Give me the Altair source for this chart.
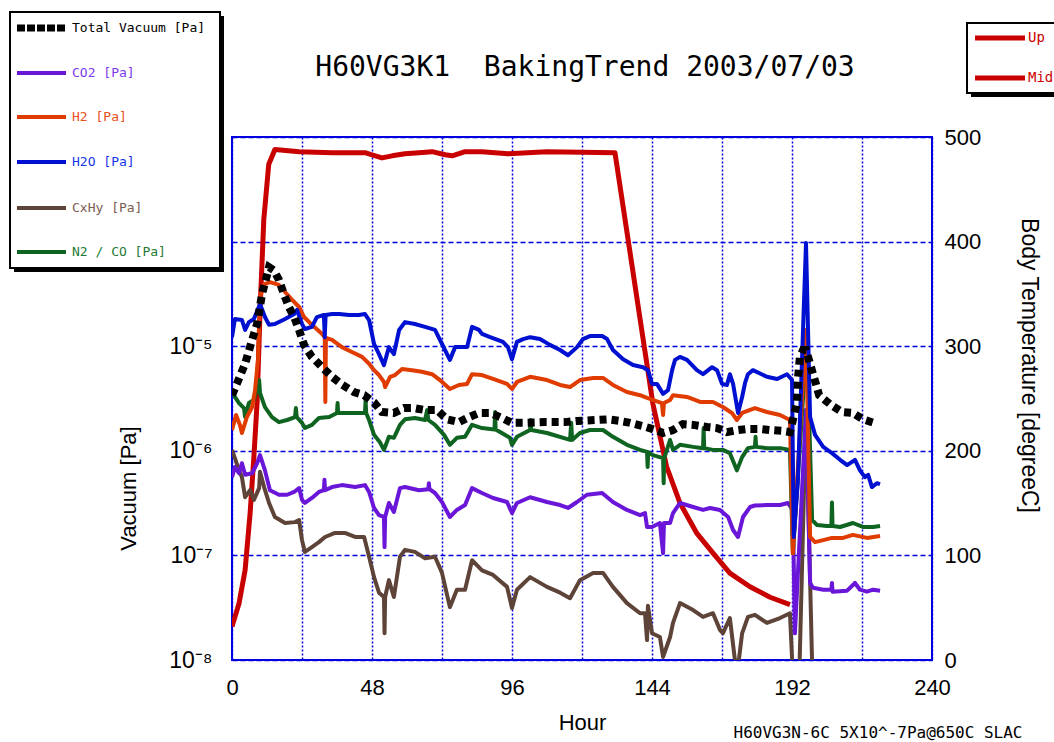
import altair as alt
import pandas as pd

# ---------------- data ----------------
total_hours = [0, 1.7, 4.5, 6.9, 8.6, 10.3, 12.7, 14.4, 16.1, 17.8, 19.5, 21.3, 23.0, 24.7, 27.4, 30.9, 34.3, 37.7, 41.8, 45.3,
               48.7, 51.4, 55.5, 59.0, 62.4, 66.2, 70.3, 73.7, 77.8, 81.3, 84.7, 88.5, 91.9, 96.0, 99.8, 107.3, 114.2, 118.3, 125.1, 128.9,
               133.0, 136.5, 140.6, 144.0, 147.8, 151.2, 154.6, 158.7, 162.9, 166.3, 169.7, 173.5, 176.9, 181.0, 184.5, 188.6, 191.3, 193.7, 194.1, 194.7,
               195.8, 196.8, 198.2, 199.2, 200.2, 201.3, 205.4, 209.1, 212.9, 216.3, 220.1]
total_pa = [3.4e-6, 4.4e-6, 6.8e-6, 1.15e-5, 1.63e-5, 3.15e-5, 5.7e-5, 5.3e-5, 4.3e-5, 3.15e-5, 2.37e-5, 1.9e-5, 1.43e-5, 1.03e-5, 7.9e-6, 6.3e-6, 5.1e-6, 4.3e-6, 3.65e-6, 3.4e-6,
            2.9e-6, 2.35e-6, 2.3e-6, 2.56e-6, 2.56e-6, 2.45e-6, 2.45e-6, 2.0e-6, 1.88e-6, 2.1e-6, 2.3e-6, 2.3e-6, 2.1e-6, 1.85e-6, 1.85e-6, 1.88e-6, 1.88e-6, 1.93e-6, 1.97e-6, 2.0e-6,
            1.93e-6, 1.85e-6, 1.73e-6, 1.62e-6, 1.48e-6, 1.58e-6, 1.8e-6, 1.76e-6, 1.69e-6, 1.65e-6, 1.51e-6, 1.58e-6, 1.62e-6, 1.62e-6, 1.58e-6, 1.55e-6, 1.51e-6, 2.86e-6, 5.1e-6, 7.9e-6,
            9.2e-6, 9.2e-6, 6.8e-6, 5.4e-6, 4.36e-6, 3.4e-6, 2.74e-6, 2.35e-6, 2.3e-6, 2.0e-6, 1.85e-6]

h2o_hours = [0, 1.0, 3.4, 4.5, 5.8, 7.5, 9.6, 11.3, 12.7, 14.7, 18.2, 21.3, 22.3, 24.0, 25.0, 27.4, 29.1, 31.5, 31.8, 32.1,
             34.3, 36.7, 40.1, 43.5, 45.6, 47.0, 48.7, 50.4, 52.1, 53.8, 55.5, 57.3, 59.3, 62.7, 66.2, 69.6, 72.0, 74.7, 76.5, 78.9,
             80.6, 82.3, 84.7, 85.7, 88.5, 92.9, 94.6, 96.0, 97.7, 99.8, 102.2, 105.6, 109.0, 112.5, 115.2, 118.3, 120.3, 122.7, 126.9, 128.6,
             130.6, 134.1, 137.5, 140.9, 142.6, 144.0, 145.7, 147.8, 149.5, 150.9, 151.9, 153.6, 156.0, 159.4, 161.5, 164.6, 166.3, 168.0, 169.7, 170.7,
             171.8, 173.5, 174.9, 175.9, 176.9, 178.6, 183.4, 186.9, 190.3, 192.0, 192.6, 194.0, 196.8, 198.2, 199.9, 202.7, 205.7, 208.5, 210.9, 213.6,
             215.3, 217.0, 218.1, 219.4, 221.1, 222.2]
h2o_pa = [1.22e-5, 1.82e-5, 1.78e-5, 1.43e-5, 1.7e-5, 1.82e-5, 2.53e-5, 1.9e-5, 1.6e-5, 1.63e-5, 1.82e-5, 2.03e-5, 2.22e-5, 1.63e-5, 1.46e-5, 1.53e-5, 1.9e-5, 1.99e-5, 1.22e-5, 1.99e-5,
          2.03e-5, 2.03e-5, 1.99e-5, 1.99e-5, 2.03e-5, 1.78e-5, 1.05e-5, 8.4e-6, 6.6e-6, 9.8e-6, 8.4e-6, 1.43e-5, 1.7e-5, 1.63e-5, 1.53e-5, 1.43e-5, 1.05e-5, 7.4e-6, 9.8e-6, 9.8e-6,
          9.8e-6, 1.53e-5, 1.43e-5, 1.31e-5, 1.22e-5, 1.1e-5, 9.8e-6, 7.5e-6, 1.1e-5, 1.17e-5, 1.22e-5, 1.17e-5, 1.03e-5, 9.2e-6, 8.2e-6, 9.8e-6, 1.17e-5, 1.25e-5, 1.25e-5, 1.17e-5,
          9.2e-6, 7.5e-6, 6.6e-6, 6.3e-6, 5.9e-6, 4.36e-6, 4.36e-6, 3.5e-6, 3.8e-6, 5.9e-6, 7.4e-6, 7.9e-6, 7.4e-6, 5.9e-6, 5.4e-6, 6.3e-6, 5.9e-6, 4.36e-6, 4.26e-6, 5.4e-6,
          4.36e-6, 2.3e-6, 3.27e-6, 4.45e-6, 5.4e-6, 5.9e-6, 5.1e-6, 4.86e-6, 5.4e-6, 4.75e-6, 1.5e-7, 5e-7, 9.7e-5, 2.1e-6, 1.42e-6, 1.09e-6, 9.5e-7, 8.2e-7, 7.3e-7, 8.2e-7,
          6.5e-7, 5.6e-7, 5.9e-7, 4.5e-7, 4.9e-7, 4.8e-7]

h2_hours = [0, 1.4, 2.7, 3.4, 5.1, 6.9, 7.9, 8.9, 9.6, 11.0, 13.0, 16.1, 18.2, 20.6, 23.0, 24.7, 27.4, 30.9, 31.8, 32.0,
            32.2, 34.3, 37.7, 41.1, 44.6, 47.0, 48.7, 50.4, 52.1, 52.5, 54.2, 55.9, 58.3, 61.7, 65.1, 68.6, 71.3, 74.7, 77.8, 80.6,
            82.3, 85.7, 89.5, 94.3, 96.0, 97.7, 102.2, 108.0, 112.5, 115.9, 119.3, 123.8, 127.2, 130.6, 135.4, 139.9, 142.3, 147.4, 147.8, 148.1,
            150.2, 151.2, 156.0, 160.5, 164.9, 168.3, 171.4, 173.1, 174.9, 179.3, 183.4, 187.9, 191.3, 192.3, 196.8, 198.2, 199.9, 202.7, 205.7, 209.5,
            212.9, 217.7, 222.2]
h2_pa = [1.58e-6, 2.2e-6, 1.77e-6, 1.48e-6, 2.1e-6, 2.62e-6, 3.8e-6, 7.4e-6, 2.95e-5, 3.9e-5, 4.1e-5, 3.85e-5, 3.3e-5, 2.77e-5, 2.37e-5, 1.9e-5, 1.6e-5, 1.31e-5, 1.22e-5, 2.93e-6,
         1.2e-5, 1.15e-5, 9.8e-6, 8.8e-6, 7.9e-6, 6.8e-6, 5.9e-6, 5.3e-6, 4.55e-6, 4.07e-6, 5.1e-6, 5.3e-6, 6.05e-6, 5.9e-6, 5.7e-6, 5.4e-6, 4.75e-6, 3.9e-6, 4.26e-6, 4.36e-6,
         5.4e-6, 5.3e-6, 4.86e-6, 4.36e-6, 3.9e-6, 4.55e-6, 5.1e-6, 4.75e-6, 4.26e-6, 4.07e-6, 4.75e-6, 4.97e-6, 4.97e-6, 4.26e-6, 3.65e-6, 3.4e-6, 3.2e-6, 2.86e-6, 2.2e-6, 2.86e-6,
         3.06e-6, 3.4e-6, 3.27e-6, 2.93e-6, 2.93e-6, 2.62e-6, 2.3e-6, 1.97e-6, 2.3e-6, 2.56e-6, 2.35e-6, 2.2e-6, 1.97e-6, 1.05e-7, 1.43e-5, 1.5e-7, 1.34e-7, 1.4e-7, 1.47e-7, 1.47e-7,
         1.57e-7, 1.47e-7, 1.53e-7]

n2co_hours = [0, 1.0, 2.4, 4.1, 4.5, 5.8, 7.5, 9.3, 9.6, 11.3, 13.7, 16.1, 18.9, 21.6, 21.9, 22.2, 24.0, 25.0, 27.4, 29.8,
              33.3, 36.0, 36.2, 36.4, 45.6, 45.8, 46.0, 47.0, 48.7, 50.7, 52.1, 53.8, 55.5, 57.6, 59.3, 62.7, 66.2, 66.9, 67.3, 69.6,
              72.7, 74.7, 77.1, 79.9, 82.3, 85.7, 90.0, 90.2, 90.4, 91.9, 95.3, 96.0, 97.7, 102.2, 102.4, 102.6, 108.0, 115.9, 116.3, 116.6,
              119.3, 122.7, 127.2, 130.6, 135.4, 139.9, 142.3, 142.5, 142.7, 144.3, 147.8, 148.0, 148.2, 150.2, 151.2, 153.6, 158.1, 161.5, 161.7, 161.9,
              164.9, 168.3, 170.7, 173.1, 174.9, 176.9, 179.3, 179.5, 179.7, 183.4, 187.9, 191.3, 192.3, 197.1, 198.9, 200.6, 204.0, 205.5, 205.7, 205.9,
              208.5, 212.9, 216.3, 219.8, 222.2]
n2co_pa = [3.8e-6, 3.27e-6, 2.86e-6, 2.56e-6, 2.1e-6, 2.86e-6, 3.06e-6, 4.75e-6, 3.57e-6, 2.62e-6, 2.1e-6, 1.88e-6, 1.97e-6, 2.1e-6, 2.56e-6, 2.1e-6, 1.85e-6, 1.65e-6, 1.77e-6, 2.06e-6,
           2.1e-6, 2.3e-6, 2.86e-6, 2.3e-6, 2.3e-6, 3.06e-6, 2.3e-6, 1.97e-6, 1.42e-6, 1.21e-6, 1.02e-6, 1.36e-6, 1.33e-6, 1.77e-6, 2.0e-6, 2.06e-6, 1.97e-6, 2.45e-6, 1.97e-6, 1.77e-6,
           1.42e-6, 1.14e-6, 1.33e-6, 1.36e-6, 1.77e-6, 1.65e-6, 1.6e-6, 2.35e-6, 1.6e-6, 1.51e-6, 1.33e-6, 1.14e-6, 1.36e-6, 1.58e-6, 1.97e-6, 1.58e-6, 1.48e-6, 1.27e-6, 1.85e-6, 1.27e-6,
           1.48e-6, 1.58e-6, 1.58e-6, 1.36e-6, 1.14e-6, 1.02e-6, 9.75e-7, 7.0e-7, 9.7e-7, 9.1e-7, 8.5e-7, 4.9e-7, 8.5e-7, 1.27e-6, 1.02e-6, 1.14e-6, 1.09e-6, 1.06e-6, 1.65e-6, 1.06e-6,
           1.02e-6, 1.02e-6, 9.5e-7, 6.5e-7, 8.7e-7, 1.06e-6, 1.09e-6, 1.36e-6, 1.09e-6, 1.06e-6, 1.06e-6, 1.02e-6, 1.05e-7, 1.17e-5, 2.18e-7, 1.95e-7, 1.91e-7, 1.91e-7, 3.2e-7, 1.91e-7,
           1.87e-7, 2.04e-7, 1.87e-7, 1.87e-7, 1.91e-7]

co2_hours = [0, 1.0, 2.4, 3.4, 4.5, 6.9, 8.6, 9.6, 11.3, 13.0, 16.1, 18.9, 21.3, 23.0, 24.0, 25.0, 27.4, 29.8, 31.5, 31.7,
             31.9, 34.3, 37.7, 42.2, 45.6, 47.0, 48.7, 50.4, 52.1, 52.3, 52.5, 53.8, 55.5, 57.6, 59.3, 64.1, 67.3, 67.5, 67.7, 69.6,
             72.0, 74.7, 77.1, 79.9, 82.3, 85.7, 89.5, 94.3, 96.0, 97.7, 102.2, 108.0, 112.5, 115.2, 118.3, 121.7, 126.9, 130.6, 135.4, 139.9,
             141.6, 142.3, 144.0, 146.7, 147.8, 148.1, 150.2, 151.2, 153.6, 158.1, 161.5, 163.9, 167.3, 170.1, 171.8, 173.5, 175.2, 177.6, 179.3, 183.4,
             187.9, 190.6, 192.3, 193.0, 196.8, 198.2, 199.2, 202.7, 205.5, 205.7, 205.9, 210.9, 213.6, 215.3, 217.7, 219.8, 222.2]
co2_pa = [5.6e-7, 7.0e-7, 6.1e-7, 7.6e-7, 5.9e-7, 6.1e-7, 7.6e-7, 9.1e-7, 6.5e-7, 4.2e-7, 3.8e-7, 3.8e-7, 4.04e-7, 4.4e-7, 3.4e-7, 3.17e-7, 3.54e-7, 4.04e-7, 4.2e-7, 5.3e-7,
          4.2e-7, 4.5e-7, 4.7e-7, 4.5e-7, 4.7e-7, 4.04e-7, 2.84e-7, 2.43e-7, 2.33e-7, 1.2e-7, 2.33e-7, 3.17e-7, 2.6e-7, 4.4e-7, 4.5e-7, 4.2e-7, 4.3e-7, 4.9e-7, 4.3e-7, 3.95e-7,
          3.24e-7, 2.33e-7, 2.72e-7, 3.03e-7, 4.4e-7, 3.95e-7, 3.54e-7, 3.24e-7, 2.54e-7, 3.17e-7, 3.6e-7, 3.24e-7, 3.03e-7, 2.84e-7, 3.24e-7, 3.8e-7, 3.95e-7, 3.24e-7, 2.72e-7, 2.43e-7,
          2.54e-7, 1.87e-7, 1.87e-7, 2.04e-7, 1.05e-7, 2.04e-7, 2.04e-7, 2.54e-7, 3.17e-7, 2.9e-7, 2.72e-7, 2.84e-7, 2.72e-7, 2.33e-7, 1.75e-7, 1.5e-7, 2.33e-7, 2.9e-7, 3.0e-7, 3.03e-7,
          3.03e-7, 3.17e-7, 2.72e-7, 1.8e-8, 2.45e-6, 5.45e-8, 4.9e-8, 4.7e-8, 4.7e-8, 5.45e-8, 4.5e-8, 4.6e-8, 5.45e-8, 4.7e-8, 4.5e-8, 4.7e-8, 4.6e-8]

cxhy_hours = [0, 1.0, 2.4, 3.4, 4.5, 6.2, 7.5, 9.3, 9.6, 11.0, 12.7, 14.7, 18.2, 21.6, 23.0, 24.0, 25.0, 27.4, 29.8, 31.9,
              35.3, 38.7, 42.2, 45.3, 47.0, 48.7, 50.4, 52.1, 52.3, 52.5, 53.8, 55.5, 57.6, 59.3, 62.7, 66.2, 69.6, 72.0, 74.7, 77.1,
              79.9, 82.3, 85.7, 89.5, 94.3, 96.0, 97.7, 102.2, 108.0, 112.5, 115.9, 119.3, 123.8, 127.2, 130.6, 135.4, 139.9, 141.6, 142.3, 142.6,
              144.0, 146.7, 147.8, 150.2, 151.2, 153.6, 158.1, 161.5, 164.9, 167.3, 168.3, 170.7, 173.1, 174.9, 176.9, 179.3, 183.4, 187.9, 191.3, 192.3,
              194.5, 196.8, 199.0]
cxhy_pa = [1.02e-6, 8.5e-7, 6.5e-7, 5.6e-7, 3.6e-7, 4.2e-7, 3.4e-7, 4.4e-7, 6.3e-7, 4.5e-7, 3.17e-7, 2.33e-7, 2.04e-7, 2.08e-7, 2.18e-7, 1.4e-7, 1.08e-7, 1.2e-7, 1.34e-7, 1.5e-7,
           1.64e-7, 1.64e-7, 1.5e-7, 1.5e-7, 9.7e-8, 6.2e-8, 4.4e-8, 4.0e-8, 1.8e-8, 4.0e-8, 5.8e-8, 4.0e-8, 9.7e-8, 1.13e-7, 1.08e-7, 9.4e-8, 9.7e-8, 6.8e-8, 3.2e-8, 4.7e-8,
           4.7e-8, 9.0e-8, 7.2e-8, 6.5e-8, 5.0e-8, 3.14e-8, 4.7e-8, 6.2e-8, 5.0e-8, 4.4e-8, 3.9e-8, 5.8e-8, 6.8e-8, 6.8e-8, 5.0e-8, 3.5e-8, 2.8e-8, 2.8e-8, 1.55e-8, 3.3e-8,
           1.8e-8, 1.66e-8, 1.07e-8, 1.66e-8, 2.26e-8, 3.5e-8, 3.0e-8, 2.58e-8, 2.8e-8, 1.94e-8, 1.8e-8, 2.52e-8, 7e-9, 1.8e-8, 2.58e-8, 2.7e-8, 2.26e-8, 2.52e-8, 2.8e-8, 7e-9,
           7e-9, 2.45e-6, 7e-9]

temp_hours = [0, 2.4, 4.5, 6.2, 7.5, 8.6, 9.7, 10.9, 12.6, 14.7, 23.0, 34.3, 45.6, 48.0, 51.4, 54.9, 59.3, 64.1, 68.6, 73.1,
              75.5, 79.9, 85.7, 94.6, 108.0, 131.3, 144.3, 149.0, 153.6, 159.4, 165.0, 170.7, 177.6, 184.5, 191.3]
temp_degc = [32, 54, 86, 140, 194, 246, 340, 421, 474, 488, 486, 485, 485, 483, 480, 482, 484, 485, 486, 483,
             482, 486, 486, 484, 486, 485, 245, 185, 150, 121, 102, 83, 70, 60, 53]

x_ticks = [0, 24, 48, 72, 96, 120, 144, 168, 192, 216, 240]
vac_ticks = [1e-8, 1e-7, 1e-6, 1e-5, 1e-4, 1e-3]
temp_ticks = [0, 100, 200, 300, 400, 500]

# name, hours, values, line color, label color, width, dash
vac_series = [
    ("CxHy [Pa]", cxhy_hours, cxhy_pa, "#5e4438", "#7a5c52", 4, None),
    ("CO2 [Pa]", co2_hours, co2_pa, "#6a16d8", "#7a3af0", 4, None),
    ("N2 / CO [Pa]", n2co_hours, n2co_pa, "#0e6420", "#1e7a30", 4, None),
    ("H2 [Pa]", h2_hours, h2_pa, "#e03c00", "#e85020", 4, None),
    ("H2O [Pa]", h2o_hours, h2o_pa, "#0010d0", "#1535e8", 4, None),
    ("Total Vacuum [Pa]", total_hours, total_pa, "#000000", "#000000", 8, [7, 5]),
]
legend_order = ["Total Vacuum [Pa]", "CO2 [Pa]", "H2 [Pa]", "H2O [Pa]", "CxHy [Pa]", "N2 / CO [Pa]"]

for _n, _h, _v, *_ in vac_series:
    assert len(_h) == len(_v), _n
assert len(temp_hours) == len(temp_degc)

# ---------------- scales & axes ----------------
BLUE = "#0000e0"
LBL_FONT = "Liberation Sans"
MONO = "DejaVu Sans Mono"

x_scale = alt.Scale(domain=[0, 240], nice=False, zero=False)
x_axis = alt.Axis(values=x_ticks, labelExpr="datum.value % 48 == 0 ? datum.label : ''",
                  grid=True, gridColor=BLUE, gridDash=[2, 2], gridWidth=1.5, gridOpacity=1,
                  ticks=False, domain=False, labelFlush=False,
                  labelFont=LBL_FONT, labelFontSize=22, labelColor="#000", labelPadding=17,
                  title="Hour", titleFont=LBL_FONT, titleFontSize=22, titleFontWeight="normal",
                  titleColor="#000", titleY=62, titleBaseline="middle")

vac_scale = alt.Scale(type="log", domain=[1e-8, 1e-3], nice=False)
vac_axis = alt.Axis(orient="left", values=vac_ticks,
                    labelExpr="datum.value < 5e-8 ? '10⁻⁸' : datum.value < 5e-7 ? '10⁻⁷' : datum.value < 5e-6 ? '10⁻⁶' : datum.value < 5e-5 ? '10⁻⁵' : ''",
                    grid=True, gridColor=BLUE, gridDash=[5, 3], gridWidth=1.5, gridOpacity=1,
                    ticks=False, domain=False,
                    labelFont=LBL_FONT, labelFontSize=23, labelColor="#000", labelPadding=20,
                    title="Vacuum [Pa]", titleFont=LBL_FONT, titleFontSize=22, titleFontWeight="normal",
                    titleColor="#000", titleX=-104, titleY=351, titleBaseline="middle", titleAngle=270)

temp_scale = alt.Scale(domain=[0, 500], nice=False, zero=True)
temp_axis = alt.Axis(orient="right", values=temp_ticks, grid=False, ticks=False, domain=False,
                     labelFont=LBL_FONT, labelFontSize=22, labelColor="#000", labelPadding=12,
                     title="Body Temperature [degreeC]", titleFont=LBL_FONT, titleFontSize=23,
                     titleFontWeight="normal", titleColor="#000", titleAngle=90,
                     titleX=96, titleY=228, titleBaseline="middle")

# ---------------- data marks ----------------
temp_df = pd.DataFrame({"hour": temp_hours, "temp": temp_degc})
temp_chart = alt.Chart(temp_df).mark_line(color="#c80000", strokeWidth=5, clip=True,
                                          strokeJoin="round").encode(
    x=alt.X("hour:Q", scale=x_scale, axis=x_axis),
    y=alt.Y("temp:Q", scale=temp_scale, axis=temp_axis),
)

vac_layers = []
for name, hs, vs, col, _lc, w, dash in vac_series:
    d = pd.DataFrame({"hour": hs, "pa": vs})
    kw = dict(color=col, strokeWidth=w, clip=True)
    if dash:
        kw.update(strokeDash=dash, strokeCap="butt", strokeJoin="miter")
    else:
        kw.update(strokeJoin="round")
    vac_layers.append(
        alt.Chart(d).mark_line(**kw).encode(
            x=alt.X("hour:Q", scale=x_scale, axis=x_axis),
            y=alt.Y("pa:Q", scale=vac_scale, axis=vac_axis),
        )
    )
vac_chart = alt.layer(*vac_layers)

# ---------------- decorations: title, legends, footnote ----------------
one = pd.DataFrame({"k": [0]})


def text_mark(txt, x, y, size, color, font, align="left"):
    return alt.Chart(one).mark_text(text=txt, font=font, fontSize=size, color=color,
                                    align=align, baseline="middle").encode(
        x=alt.value(x), y=alt.value(y))


def rect_mark(x1, x2, y1, y2, fill, stroke=None):
    kw = dict(fill=fill)
    if stroke:
        kw.update(stroke=stroke, strokeWidth=2)
    return alt.Chart(one).mark_rect(**kw).encode(
        x=alt.value(x1), x2=alt.value(x2), y=alt.value(y1), y2=alt.value(y2))


def rule_mark(x1, x2, y, color, width, dash=None):
    kw = dict(color=color, strokeWidth=width)
    if dash:
        kw.update(strokeDash=dash, strokeCap="butt")
    return alt.Chart(one).mark_rule(**kw).encode(
        x=alt.value(x1), x2=alt.value(x2), y=alt.value(y))


decor = []
decor.append(text_mark("H60VG3K1\u00a0 BakingTrend 2003/07/03", 353, -69, 28, "#000", MONO, "center"))

# left legend box
decor.append(rect_mark(-218, -8, -121, 135, "#000"))
decor.append(rect_mark(-222, -12, -125, 131, "#fff", "#000"))
leg_y = [-109, -64, -20, 25, 71, 115]
info = {n: (c, lc, w, d) for n, _h, _v, c, lc, w, d in vac_series}
for name, yy in zip(legend_order, leg_y):
    c, lc, w, d = info[name]
    if d:
        decor.append(rule_mark(-215, -165, yy, c, 7, [8, 2]))
    else:
        decor.append(rule_mark(-215, -166, yy, c, 4))
    decor.append(text_mark(name, -160, yy, 13, lc, MONO))

# right legend box (temperature)
decor.append(rect_mark(739, 832, -110, -40, "#000"))
decor.append(rect_mark(735, 828, -114, -44, "#fff", "#000"))
for name, yy in [("Up", -99), ("Mid", -59)]:
    decor.append(rule_mark(743, 793, yy, "#c80000", 5))
    decor.append(text_mark(name, 796, yy, 14, "#cc0000", MONO))

decor.append(text_mark("H60VG3N-6C 5X10^-7Pa@650C SLAC", 646, 596, 16, "#000", MONO, "center"))

chart = alt.layer(temp_chart, vac_chart, *decor).resolve_scale(y="independent").properties(
    width=700, height=523,
    padding={"left": 232, "top": 137, "right": 122, "bottom": 82},
    autosize=alt.AutoSizeParams(type="none"),
).configure_view(stroke=BLUE, strokeWidth=2)

chart.save("out.html", embed_options={"renderer": "svg", "actions": False})
